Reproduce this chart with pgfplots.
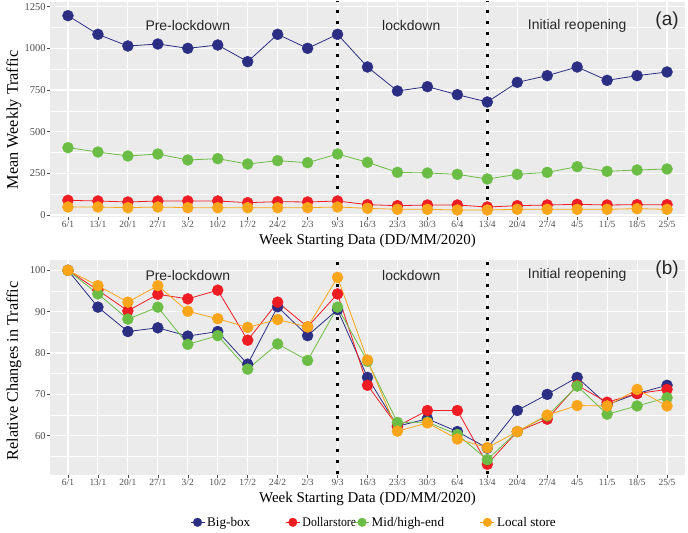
\documentclass[border=0pt]{standalone}
\usepackage{fontspec}
\setmainfont{Liberation Serif}
\newfontfamily\arial{Liberation Sans}
\usepackage{graphicx}
\usepackage{pgfplots}
\usepackage{pgfplotstable}
\pgfplotsset{compat=1.18}
\definecolor{bgG}{HTML}{EBEBEB}
\definecolor{cBlue}{HTML}{2B2E83}
\definecolor{cRed}{HTML}{EE1D24}
\definecolor{cGreen}{HTML}{6CBD45}
\definecolor{cOrange}{HTML}{FBA51A}
\definecolor{tickG}{HTML}{4D4D4D}

\pgfplotstableread{
x blue red green orange
0 1196 88 404 48
1 1084 84 378 48
2 1014 78 354 44
3 1026 84 366 48
4 1000 84 330 44
5 1020 84 338 44
6 920 74 306 44
7 1084 80 326 44
8 1000 78 314 44
9 1084 84 366 48
10 888 62 316 40
11 744 56 256 34
12 770 60 252 34
13 722 60 244 30
14 678 48 216 30
15 796 56 244 34
16 836 60 256 34
17 888 64 290 34
18 808 60 262 34
19 836 62 270 38
20 858 62 276 34
}\toptable

\pgfplotstableread{
x blue red green orange
0 100 100 100 100
1 91.1 95.2 94.3 96.3
2 85.2 90.2 88.2 92.3
3 86.1 94.2 91.1 96.3
4 84.1 93.1 82.1 90.1
5 85.2 95.2 84.2 88.3
6 77.3 83.1 76.1 86.2
7 91.2 92.3 82.2 88.1
8 84.2 86.3 78.2 86.3
9 90.5 94.3 91.1 98.3
10 74.1 72.2 78 78.3
11 62.3 62.3 63.2 61.1
12 64.1 66.1 63.3 63.1
13 61.0 66.1 60.3 59.2
14 57 53.1 54.2 57.1
15 66.1 61 61 61
16 70 64 64.8 65
17 74.1 72.2 72 67.3
18 67.5 68.1 65.2 67.2
19 70.2 70.2 67.2 71.2
20 72.2 71.2 69.2 67.2
}\bottable

\tikzset{
  lab/.style={font=\arial\fontsize{14}{15}\selectfont, text=black!85},
  panlab/.style={font=\arial\fontsize{19}{20}\selectfont, text=black!85},
}

\pgfplotsset{
  panel/.style={
    scale only axis, width=635bp, height=215bp,
    xmin=-0.6, xmax=20.6,
    axis background/.style={fill=bgG},
    axis line style={draw=none},
    grid=both,
    major grid style={white, line width=1.1bp},
    minor grid style={white, line width=0.55bp},
    xtick={0,...,20},
    xticklabels={6/1,13/1,20/1,27/1,3/2,10/2,17/2,24/2,2/3,9/3,16/3,23/3,30/3,6/4,13/4,20/4,27/4,4/5,11/5,18/5,25/5},
    tick style={tickG, line width=0.5bp},
    major tick length=2.75bp,
    minor tick length=0pt,
    tick align=outside,
    xtick pos=lower, ytick pos=left,
    xticklabel style={font=\fontsize{9.5}{10}\selectfont, text=tickG, inner sep=1.5bp},
    yticklabel style={font=\fontsize{10.5}{11}\selectfont, text=tickG, inner sep=1.5bp},
    /pgf/number format/assume math mode=true,
    /pgf/number format/1000 sep={},
    xlabel style={font=\fontsize{15}{16}\selectfont, at={(axis description cs:0.5,-0.112)}, anchor=center},
    ylabel style={font=\fontsize{16.3}{17}\selectfont},
    xlabel={Week Starting Data (DD/MM/2020)},
  },
  ln/.style={line width=0.8bp, mark=none, forget plot},
  pt/.style={only marks, mark=*, mark size=5.5bp,
    legend image code/.code={
      \draw[line width=1.3bp] (1bp,0bp) -- (15bp,0bp);
      \fill (8bp,0bp) circle (4.3bp);}},
  vl/.style={black, line width=3bp, dash pattern=on 3bp off 8bp, mark=none, forget plot},
}

\begin{document}
\begin{tikzpicture}
\useasboundingbox (0,0) rectangle (688bp,533bp);
\begin{axis}[panel, at={(50bp,316bp)}, anchor=south west,
  ymin=-12, ymax=1278, ytick={0,250,...,1250},
  minor ytick={125,375,625,875,1125},
  ylabel style={at={(axis description cs:-0.057,0.451)}, anchor=center},
  ylabel={Mean Weekly Traffic}]
  \addplot[ln, cBlue] table[x=x,y=blue] {\toptable};
  \addplot[ln, cRed] table[x=x,y=red] {\toptable};
  \addplot[ln, cGreen] table[x=x,y=green] {\toptable};
  \addplot[ln, cOrange] table[x=x,y=orange] {\toptable};
  \addplot[pt, cBlue] table[x=x,y=blue] {\toptable};
  \addplot[pt, cRed] table[x=x,y=red] {\toptable};
  \addplot[pt, cGreen] table[x=x,y=green] {\toptable};
  \addplot[pt, cOrange] table[x=x,y=orange] {\toptable};
  \addplot[vl] coordinates {(9,-40) (9,1300)};
  \addplot[vl] coordinates {(14,-40) (14,1300)};
  \node[lab] at (axis cs:4,1135) {Pre-lockdown};
  \node[lab] at (axis cs:11.46,1135) {lockdown};
  \node[lab] at (axis cs:17,1135) {Initial reopening};
  \node[panlab] at (axis cs:20.0,1165) {(a)};
\end{axis}
\begin{axis}[panel, at={(50bp,58bp)}, anchor=south west,
  ymin=50.5, ymax=102.5, ytick={60,70,...,100},
  minor ytick={55,65,75,85,95},
  ylabel style={at={(axis description cs:-0.057,0.484)}, anchor=center},
  ylabel={Relative Changes in Traffic},
  legend columns=4,
  legend cell align=left,
  legend style={at={(0.51,-0.22)}, anchor=center, draw=none, fill=none,
    font=\fontsize{13.2}{14}\selectfont,
    /tikz/every even column/.append style={column sep=0bp}}]
  \addplot[ln, cBlue] table[x=x,y=blue] {\bottable};
  \addplot[ln, cRed] table[x=x,y=red] {\bottable};
  \addplot[ln, cGreen] table[x=x,y=green] {\bottable};
  \addplot[ln, cOrange] table[x=x,y=orange] {\bottable};
  \addplot[pt, cBlue] table[x=x,y=blue] {\bottable};
  \addlegendentry{\makebox[76bp][l]{Big-box}}
  \addplot[pt, cRed] table[x=x,y=red] {\bottable};
  \addlegendentry{\makebox[50bp][l]{\scalebox{0.9}[1]{Dollar\hspace{0.5bp}store}}}
  \addplot[pt, cGreen] table[x=x,y=green] {\bottable};
  \addlegendentry{\makebox[106bp][l]{Mid/high-end}}
  \addplot[pt, cOrange] table[x=x,y=orange] {\bottable};
  \addlegendentry{Local store}
  \addplot[vl] coordinates {(9,40) (9,110)};
  \addplot[vl] coordinates {(14,40) (14,110)};
  \node[lab] at (axis cs:4,98.8) {Pre-lockdown};
  \node[lab] at (axis cs:11.46,98.8) {lockdown};
  \node[lab] at (axis cs:17,98.8) {Initial reopening};
  \node[panlab] at (axis cs:20.0,100.1) {(b)};
\end{axis}
\end{tikzpicture}
\end{document}
